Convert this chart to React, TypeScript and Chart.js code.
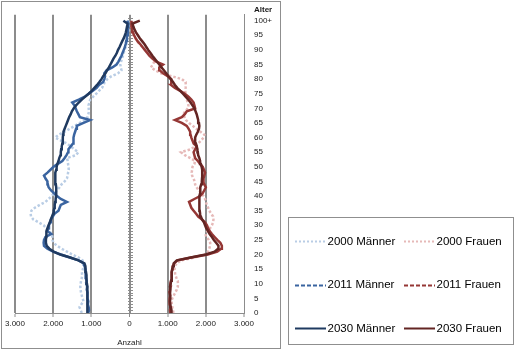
import React, { useEffect, useRef } from 'react';
import { Chart, registerables } from 'chart.js';

Chart.register(...registerables);

// Alter (Jahre) 0 .. 100+
const AGES = [
  0, 1, 2, 3, 4, 5, 6, 7, 8, 9,
  10, 11, 12, 13, 14, 15, 16, 17, 18, 19,
  20, 21, 22, 23, 24, 25, 26, 27, 28, 29,
  30, 31, 32, 33, 34, 35, 36, 37, 38, 39,
  40, 41, 42, 43, 44, 45, 46, 47, 48, 49,
  50, 51, 52, 53, 54, 55, 56, 57, 58, 59,
  60, 61, 62, 63, 64, 65, 66, 67, 68, 69,
  70, 71, 72, 73, 74, 75, 76, 77, 78, 79,
  80, 81, 82, 83, 84, 85, 86, 87, 88, 89,
  90, 91, 92, 93, 94, 95, 96, 97, 98, 99,
  100,
];

const MAENNER_2000 = [
  1250, 1280, 1310, 1260, 1205, 1230, 1250, 1270, 1280, 1290,
  1280, 1270, 1250, 1240, 1250, 1220, 1210, 1210, 1230, 1340,
  1500, 1640, 1780, 1900, 1990, 2020, 2020, 2040, 2100, 2180,
  2250, 2380, 2520, 2580, 2590, 2570, 2480, 2350, 2200, 2120,
  2040, 1970, 1900, 1830, 1780, 1700, 1640, 1620, 1610, 1590,
  1600, 1610, 1620, 1640, 1400, 1340, 1450, 1540, 1640, 1800,
  1950, 1850, 1700, 1570, 1440, 1300, 1160, 1100, 1080, 1060,
  1070, 1075, 1050, 1030, 950, 870, 800, 720, 680, 650,
  580, 470, 300, 210, 230, 240, 220, 200, 170, 150,
  130, 100, 80, 65, 50, 40, 30, 25, 20, 15,
  40,
];

const MAENNER_2011 = [
  1080, 1060, 1070, 1090, 1080, 1100, 1090, 1110, 1120, 1110,
  1130, 1120, 1140, 1150, 1140, 1160, 1180, 1200, 1330, 1560,
  1800, 2000, 2150, 2240, 2250, 2240, 2200, 2050, 2150, 2120,
  2110, 2080, 2060, 2010, 1960, 1860, 1830, 1800, 1640, 1800,
  1900, 1980, 2060, 2120, 2140, 2150, 2200, 2240, 2150, 2070,
  1990, 1880, 1760, 1700, 1650, 1610, 1600, 1540, 1480, 1470,
  1465, 1450, 1425, 1400, 1380, 1205, 1030, 1300, 1340, 1380,
  1410, 1440, 1500, 1330, 1170, 1070, 960, 860, 800, 690,
  660, 640, 660, 600, 450, 340, 290, 250, 210, 180,
  150, 120, 100, 85, 70, 60, 50, 40, 35, 30,
  60,
];

const MAENNER_2030 = [
  1100, 1110, 1100, 1095, 1100, 1105, 1100, 1110, 1105, 1110,
  1115, 1120, 1130, 1130, 1140, 1150, 1160, 1180, 1340, 1555,
  1815, 1990, 2100, 2170, 2190, 2190, 2185, 2185, 2170, 2150,
  2120, 2090, 2060, 2030, 2000, 1985, 1965, 1960, 1950, 1935,
  1925, 1920, 1920, 1920, 1930, 1945, 1950, 1945, 1935, 1920,
  1910, 1890, 1860, 1840, 1810, 1800, 1790, 1775, 1760, 1750,
  1745, 1740, 1730, 1700, 1670, 1640, 1610, 1580, 1540, 1510,
  1460, 1400, 1330, 1250, 1160, 1070, 990, 920, 850, 790,
  735, 690, 630, 590, 540, 500, 460, 420, 370, 330,
  300, 260, 225, 190, 150, 120, 95, 80, 65, 55,
  160,
];

const FRAUEN_2000 = [
  1150, 1140, 1120, 1110, 1100, 1120, 1160, 1200, 1240, 1265,
  1270, 1265, 1230, 1200, 1190, 1180, 1190, 1235, 1350, 1700,
  2000, 2060, 2090, 2110, 2115, 2080, 2010, 1990, 2040, 2110,
  2160, 2190, 2200, 2190, 2140, 2090, 2060, 2025, 2000, 1980,
  1940, 1880, 1810, 1760, 1720, 1705, 1680, 1640, 1630, 1640,
  1650, 1700, 1720, 1590, 1450, 1350, 1600, 1720, 1800, 1875,
  1940, 1960, 1860, 1750, 1660, 1560, 1480, 1440, 1410, 1460,
  1530, 1545, 1530, 1500, 1480, 1470, 1460, 1470, 1475, 1470,
  1370, 1105, 825, 680, 560, 610, 650, 660, 600, 520,
  420, 340, 260, 200, 150, 110, 80, 60, 40, 30,
  80,
];

const FRAUEN_2011 = [
  1070, 1060, 1080, 1050, 1040, 1060, 1070, 1050, 1060, 1080,
  1070, 1090, 1100, 1110, 1110, 1120, 1130, 1170, 1260, 1620,
  2050, 2300, 2400, 2420, 2380, 2300, 2230, 2160, 2100, 2060,
  2030, 1980, 1900, 1800, 1740, 1680, 1620, 1590, 1560, 1700,
  1850, 1920, 1960, 2000, 1960, 1930, 1940, 1960, 1980, 1950,
  1920, 1850, 1790, 1720, 1700, 1680, 1720, 1760, 1680, 1650,
  1620, 1600, 1590, 1550, 1500, 1370, 1190, 1370, 1450, 1500,
  1720, 1700, 1680, 1620, 1545, 1450, 1330, 1190, 1090, 1100,
  1090, 1000, 880, 790, 780, 880, 700, 600, 520, 460,
  400, 340, 280, 210, 160, 120, 90, 70, 50, 40,
  60,
];

const FRAUEN_2030 = [
  1090, 1100, 1080, 1070, 1060, 1070, 1060, 1060, 1070, 1060,
  1080, 1090, 1100, 1105, 1110, 1120, 1140, 1160, 1240, 1600,
  2000, 2230, 2320, 2330, 2270, 2210, 2160, 2100, 2060, 2010,
  1980, 1950, 1900, 1870, 1850, 1840, 1830, 1825, 1825, 1830,
  1845, 1850, 1850, 1860, 1880, 1895, 1900, 1910, 1905, 1900,
  1890, 1870, 1850, 1830, 1800, 1790, 1780, 1760, 1740, 1720,
  1720, 1750, 1790, 1820, 1830, 1820, 1800, 1780, 1760, 1730,
  1700, 1650, 1600, 1540, 1470, 1400, 1330, 1250, 1190, 1140,
  1080, 1020, 960, 900, 840, 780, 720, 660, 600, 545,
  490, 440, 390, 330, 270, 220, 170, 130, 100, 80,
  270,
];

const SERIES_LABELS = [
  '2000 Männer', '2011 Männer', '2030 Männer',
  '2000 Frauen', '2011 Frauen', '2030 Frauen',
];

const Y_TICK_LABELS = [
  '0', '5', '10', '15', '20', '25', '30', '35', '40', '45', '50',
  '55', '60', '65', '70', '75', '80', '85', '90', '95', '100+',
];

const X_TICK_LABELS = ['3.000', '2.000', '1.000', '0', '1.000', '2.000', '3.000'];

const FONT = "'Liberation Sans', Arial, sans-serif";
const GRID = '#8c8c8c';
const FRAME = '#8f8f8f';
const TEXT = '#1a1a1a';

const W = 516;
const H = 355;

const frameAndAxisPlugin = {
  id: 'frameAndAxis',
  beforeDraw(chart: any) {
    const { ctx } = chart;
    ctx.save();
    ctx.fillStyle = '#ffffff';
    ctx.fillRect(0, 0, chart.width, chart.height);
    ctx.strokeStyle = FRAME;
    ctx.lineWidth = 1;
    ctx.strokeRect(1.5, 1.5, 279, 347);
    ctx.restore();
  },
  beforeDatasetsDraw(chart: any) {
    const { ctx } = chart;
    const xs = chart.scales.x;
    const ys = chart.scales.y;
    const x0 = Math.round(xs.getPixelForValue(0)) + 0.5;
    ctx.save();
    ctx.strokeStyle = GRID;
    ctx.lineWidth = 1;
    ctx.beginPath();
    ctx.moveTo(x0, ys.top);
    ctx.lineTo(x0, ys.bottom);
    const marks = AGES.concat([AGES[AGES.length - 1] + 1]);
    for (const a of marks) {
      const py = Math.round(ys.getPixelForValue(a)) + 0.5;
      ctx.moveTo(x0 - 2.5, py);
      ctx.lineTo(x0 + 2.5, py);
    }
    ctx.stroke();
    ctx.restore();
  },
  afterDraw(chart: any) {
    const { ctx } = chart;
    const ys = chart.scales.y;
    ctx.save();
    // axis caption "Alter"
    ctx.fillStyle = TEXT;
    ctx.font = `bold 8px ${FONT}`;
    ctx.textAlign = 'left';
    ctx.textBaseline = 'middle';
    ctx.fillText('Alter', ys.left + 10, ys.top - 5);

    // legend box
    const box = { left: 288.5, top: 217.5, right: 513.5, bottom: 344.5 };
    ctx.strokeStyle = FRAME;
    ctx.lineWidth = 1;
    ctx.strokeRect(box.left, box.top, box.right - box.left, box.bottom - box.top);
    const colX = [box.left + 6.5, box.left + 115.5];
    const rowY = [box.top + 23.5, box.top + 67, box.top + 110.5];
    const lineLen = 31;
    ctx.font = `11.5px ${FONT}`;
    chart.data.datasets.forEach((ds: any, i: number) => {
      const col = Math.floor(i / 3);
      const row = i % 3;
      const lx = colX[col];
      const ly = Math.round(rowY[row]) + 0.5;
      ctx.save();
      ctx.strokeStyle = ds.borderColor;
      ctx.lineWidth = 2;
      ctx.setLineDash(ds.legendDash || []);
      ctx.beginPath();
      ctx.moveTo(lx, ly);
      ctx.lineTo(lx + lineLen, ly);
      ctx.stroke();
      ctx.restore();
      ctx.fillStyle = '#000000';
      ctx.textAlign = 'left';
      ctx.textBaseline = 'middle';
      ctx.fillText(ds.label, lx + lineLen + 1.5, rowY[row] + 0.5);
    });
    ctx.restore();
  },
};

function series(values: number[], sign: number) {
  return AGES.map((a, i) => ({ x: sign * values[i], y: a }));
}

export default function App() {
  const ref = useRef<HTMLCanvasElement | null>(null);

  useEffect(() => {
    document.body.style.margin = '0';
    const canvas = ref.current;
    if (!canvas) return;

    const mk = (label: string, values: number[], sign: number, color: string, width: number, dash: number[], legendDash: number[], order: number) => ({
      label,
      data: series(values, sign),
      borderColor: color,
      backgroundColor: color,
      borderWidth: width,
      borderDash: dash,
      borderCapStyle: 'butt',
      borderJoinStyle: 'miter',
      legendDash,
      showLine: true,
      pointRadius: 0,
      pointHoverRadius: 0,
      fill: false,
      tension: 0,
      order,
    });

    const chart = new Chart(canvas, {
      type: 'scatter',
      data: {
        datasets: [
          mk(SERIES_LABELS[0], MAENNER_2000, -1, '#b9cde5', 2.5, [2.5, 2], [2, 2], 2),
          mk(SERIES_LABELS[1], MAENNER_2011, -1, '#3a64a0', 2.5, [], [4, 2], 1),
          mk(SERIES_LABELS[2], MAENNER_2030, -1, '#1f3a60', 2.5, [], [], 0),
          mk(SERIES_LABELS[3], FRAUEN_2000, 1, '#e6b9b8', 2.5, [2.5, 2], [2, 2], 2),
          mk(SERIES_LABELS[4], FRAUEN_2011, 1, '#953735', 2.5, [], [4, 2], 1),
          mk(SERIES_LABELS[5], FRAUEN_2030, 1, '#632523', 2.5, [], [], 0),
        ] as any,
      },
      plugins: [frameAndAxisPlugin],
      options: {
        responsive: false,
        animation: false,
        devicePixelRatio: 1,
        layout: { padding: { left: 15, top: 14, right: W - 244 - 40, bottom: 6 } },
        plugins: {
          legend: { display: false },
          tooltip: { enabled: false },
          title: { display: false },
        },
        scales: {
          x: {
            type: 'linear',
            position: 'bottom',
            min: -3000,
            max: 3000,
            afterFit: (s: any) => { s.height = 36; },
            ticks: {
              stepSize: 1000,
              padding: 2,
              color: TEXT,
              font: { family: FONT, size: 8 },
              maxRotation: 0,
              callback: (v: any) => X_TICK_LABELS[Math.round((Number(v) + 3000) / 1000)],
            },
            grid: {
              color: GRID,
              lineWidth: (c: any) => (c.tick && c.tick.value === 3000 ? 0 : c.tick && c.tick.value === 0 ? 1 : 2),
              tickLength: 4,
              tickWidth: 1,
              tickColor: GRID,
            },
            border: { display: true, color: GRID, width: 1 },
            title: {
              display: true,
              text: 'Anzahl',
              color: TEXT,
              font: { family: FONT, size: 8 },
              padding: { top: 0, bottom: 1 },
            },
          },
          y: {
            type: 'linear',
            position: 'right',
            min: 0,
            max: 102,
            afterFit: (s: any) => { s.width = 40; },
            afterBuildTicks: (s: any) => {
              s.ticks = Y_TICK_LABELS.map((_, i) => ({ value: i * 5 }));
            },
            ticks: {
              stepSize: 5,
              padding: 10,
              autoSkip: false,
              color: TEXT,
              font: { family: FONT, size: 8 },
              callback: (v: any) => Y_TICK_LABELS[Math.round(Number(v) / 5)],
            },
            grid: { display: true, drawOnChartArea: false, drawTicks: false },
            border: { display: true, color: GRID, width: 1 },
          },
        },
      } as any,
    });

    return () => chart.destroy();
  }, []);

  return (
    <div style={{ width: W, height: H }}>
      <canvas ref={ref} width={W} height={H} style={{ display: 'block' }} />
    </div>
  );
}
